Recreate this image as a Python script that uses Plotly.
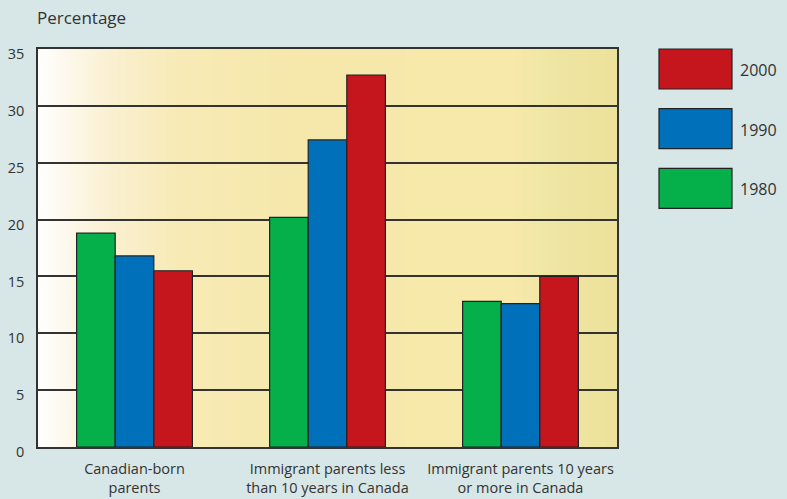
import base64, struct, zlib
import plotly.graph_objects as go

categories = ["Canadian-born<br>parents",
              "Immigrant parents less<br>than 10 years in Canada",
              "Immigrant parents 10 years<br>or more in Canada"]
series_names = ["1980", "1990", "2000"]
values_1980 = [18.8, 20.2, 12.8]
values_1990 = [16.8, 27.0, 12.6]
values_2000 = [15.5, 32.7, 15.0]
y_ticks = [0, 5, 10, 15, 20, 25, 30, 35]
y_title = "Percentage"

colors = {"1980": "#05AF4A", "1990": "#0070BA", "2000": "#C4161C"}
series_values = {"1980": values_1980, "1990": values_1990, "2000": values_2000}

W, H = 787, 499
L, R, T, B = 38, 170, 49, 52
FONT = "Open Sans"
TXT = "#333333"


def gradient_png(stops, n=400):
    def hx(c):
        c = c.lstrip("#")
        return [int(c[i:i + 2], 16) for i in (0, 2, 4)]
    row = bytearray([0])
    for i in range(n):
        f = i / (n - 1)
        for j in range(len(stops) - 1):
            f0, c0 = stops[j]
            f1, c1 = stops[j + 1]
            if f0 <= f <= f1:
                t = 0 if f1 == f0 else (f - f0) / (f1 - f0)
                a, b = hx(c0), hx(c1)
                row += bytes(int(round(a[k] + (b[k] - a[k]) * t)) for k in range(3))
                break
    raw = bytes(row)

    def chunk(tag, data):
        return struct.pack(">I", len(data)) + tag + data + struct.pack(">I", zlib.crc32(tag + data) & 0xffffffff)
    png = b"\x89PNG\r\n\x1a\n" + chunk(b"IHDR", struct.pack(">IIBBBBB", n, 1, 8, 2, 0, 0, 0))
    png += chunk(b"IDAT", zlib.compress(raw)) + chunk(b"IEND", b"")
    return "data:image/png;base64," + base64.b64encode(png).decode()


stops = [(0.0, "#FFFFFF"), (0.05, "#FDF8EC"), (0.12, "#FAF0D2"), (0.25, "#F7EAB5"),
         (0.45, "#F6E8AB"), (0.82, "#F7E9A9"), (0.865, "#F1E7A6"), (0.93, "#EEE4A0"), (1.0, "#EDE29B")]

fig = go.Figure()
for name in series_names:
    fig.add_trace(go.Bar(x=categories, y=series_values[name], name=name,
                         marker=dict(color=colors[name], line=dict(color="#222222", width=1.2)),
                         showlegend=False))

pw = W - L - R
ph = H - T - B


def px(x):
    return (x - L) / pw


def py(y):
    return (H - B - y) / ph


shapes = []
annotations = []
# custom legend: 2000 top, 1980 bottom
box_tops = [49, 108.7, 168.3]
for name, top in zip(reversed(series_names), box_tops):
    shapes.append(dict(type="rect", xref="paper", yref="paper",
                       x0=px(659), x1=px(732), y0=py(top + 40), y1=py(top),
                       fillcolor=colors[name], line=dict(color="#222222", width=1.2)))
    annotations.append(dict(xref="paper", yref="paper", x=px(738), y=py(top + 21),
                            text=name, showarrow=False, xanchor="left", yanchor="middle",
                            font=dict(family=FONT, size=16, color=TXT)))

annotations.append(dict(xref="paper", yref="paper", x=px(35), y=py(17), text=y_title,
                        showarrow=False, xanchor="left", yanchor="middle",
                        font=dict(family=FONT, size=17, color=TXT)))

fig.update_layout(
    width=W, height=H,
    margin=dict(l=L, r=R, t=T, b=B, pad=0, autoexpand=False),
    paper_bgcolor="#D7E6E6",
    plot_bgcolor="rgba(0,0,0,0)",
    barmode="group", bargap=0.4, bargroupgap=0,
    shapes=shapes, annotations=annotations,
    images=[dict(source=gradient_png(stops), xref="x domain", yref="y domain",
                 x=0, y=1, sizex=1, sizey=1, sizing="stretch", xanchor="left",
                 yanchor="top", layer="below")],
    xaxis=dict(showgrid=False, showline=True, mirror=True, linecolor="#333333", linewidth=1.6,
               automargin=False,
               ticks="", ticklabelstandoff=8, tickfont=dict(family=FONT, size=14.5, color=TXT)),
    yaxis=dict(range=[0, 35], tickvals=y_ticks, showgrid=True, gridcolor="#333333", gridwidth=1.6,
               automargin=False,
               zeroline=False, showline=True, mirror=True, linecolor="#333333", linewidth=1.6,
               ticks="", ticklabelstandoff=9, ticklabelshift=5,
               tickfont=dict(family=FONT, size=14.5, color=TXT)),
    font=dict(family=FONT, color=TXT),
)

fig.write_html("out.html")
